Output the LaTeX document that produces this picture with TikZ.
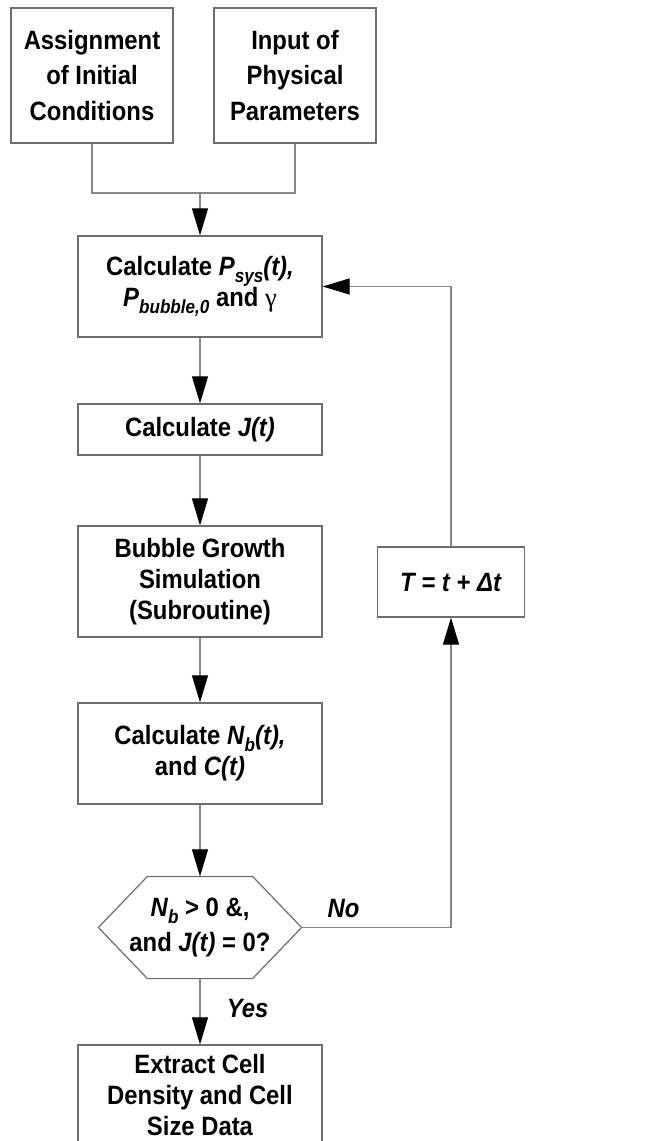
\documentclass[tikz,border=0pt]{standalone}
\usepackage{fontspec}
\setmainfont{Liberation Sans}[FakeStretch=0.9]
\newfontfamily\symfont{Liberation Serif}
\usetikzlibrary{arrows.meta,positioning}
\definecolor{framegray}{RGB}{110,110,110}
\definecolor{linegray}{RGB}{135,135,135}
\newcommand{\iv}[1]{\textit{#1}}
\newcommand{\lo}[1]{\raisebox{-7pt}{\fontsize{19}{19}\selectfont\itshape #1}}

\begin{document}
\begin{tikzpicture}[x=1pt,y=-1pt,
    box/.style={draw=framegray,line width=1.2pt,minimum width=244pt,align=center,
                font=\fontsize{26.5}{31}\selectfont\bfseries,inner sep=0pt},
    topbox/.style={box,minimum width=162pt,minimum height=135pt,
                   font=\fontsize{26.5}{35.5}\selectfont\bfseries},
    hexa/.style={box,draw=none,minimum width=202pt,minimum height=101pt},
    edge/.style={draw=framegray,line width=1.2pt},
    flow/.style={draw=linegray,line width=1.1pt,
                 -{Triangle[length=27pt,width=16pt,color=black]}},
    tag/.style={font=\fontsize{26.5}{28}\selectfont\bfseries\itshape}]
    \useasboundingbox (0,0) rectangle (652,1141);

    \node[topbox] (assign) at (92,75.5) {Assignment\\of Initial\\Conditions};
    \node[topbox] (input) at (295,75.5) {Input of\\Physical\\Parameters};
    \node[box,minimum height=101pt] (calcp) at (200,286.5)
        {Calculate \iv{P}\lo{sys}\iv{(t),}\\
         \iv{P}\lo{bubble,0} and {\symfont\mdseries γ}};
    \node[box,minimum height=51pt] (calcj) at (200,429.5) {Calculate \iv{J(t)}};
    \node[box,minimum height=111pt] (bubble) at (200,581.5)
        {Bubble Growth\\Simulation\\(Subroutine)};
    \node[box,minimum height=101pt] (calcn) at (200,753.5)
        {Calculate \iv{N}\lo{b}\iv{(t),}\\and \iv{C(t)}};
    \node[hexa] (check) at (200,927.5)
        {\iv{N}\lo{b} > 0 \&,\\[4pt]and \iv{J(t)} = 0?};
    \node[box,minimum height=100pt] (extract) at (200,1095)
        {Extract Cell\\Density and Cell\\Size Data};
    \node[box,minimum width=147pt,minimum height=70pt] (tstep) at (451,582)
        {\iv{T = t + Δt}};
    \coordinate (join) at (200,193);

    % hexagon outline of the decision
    \draw[edge] (check.west) -- ([xshift=49pt]check.north west)
        -- ([xshift=-49pt]check.north east) -- (check.east)
        -- ([xshift=-49pt]check.south east) -- ([xshift=49pt]check.south west) -- cycle;

    \draw[draw=linegray,line width=1.1pt] (assign.south) |- (join) -| (input.south);
    \draw[flow] (join) -- (calcp);
    \draw[flow] (calcp) -- (calcj);
    \draw[flow] (calcj) -- (bubble);
    \draw[flow] (bubble) -- (calcn);
    \draw[flow] (calcn) -- (check);
    \draw[flow] (check) -- (extract) node[tag,pos=0.45,right=23pt] {Yes};
    \draw[flow] (check.east) -| (tstep.south) node[tag,pos=0.14,above=6pt] {No};
    \draw[flow] (tstep.north) |- (calcp.east);
\end{tikzpicture}
\end{document}
